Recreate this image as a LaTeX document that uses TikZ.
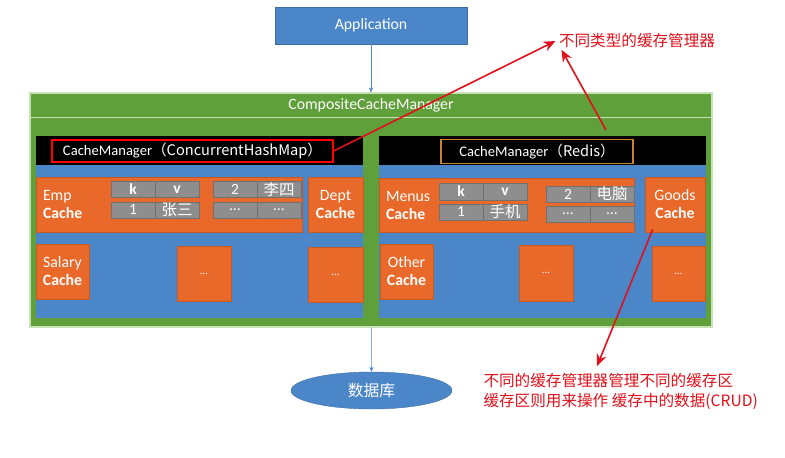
\documentclass[tikz,border=0pt]{standalone}
\usepackage{fontspec}
\setmainfont{Carlito}
\newfontfamily\cjk{Noto Sans CJK SC}
\usetikzlibrary{arrows.meta,calc,positioning,shapes.geometric}

\definecolor{appblue}{HTML}{4A86C8}
\definecolor{appline}{HTML}{3F6F9E}
\definecolor{mgrgreen}{HTML}{60A03A}
\definecolor{mgrline}{HTML}{C8E2B6}
\definecolor{cacheorange}{HTML}{E8692A}
\definecolor{cellgray}{HTML}{8E8E8E}
\definecolor{cellline}{HTML}{707070}
\definecolor{notered}{HTML}{E0111C}
\definecolor{redisgold}{HTML}{C8862C}

\begin{document}
\begin{tikzpicture}[x=1pt,y=-1pt,font=\fontsize{15.8}{18}\selectfont,
    panel/.style={inner sep=0pt,text=white},
    mgrname/.style={panel,line width=1.2pt,font=\fontsize{14.6}{17}\selectfont},
    cachebox/.style={fill=cacheorange,draw=cacheorange!85!black,text=white,align=center,inner sep=0pt},
    cell/.style={fill=cellgray,draw=cellline,text=white,minimum width=44pt,minimum height=16pt,
                 inner sep=0pt,outer sep=0pt,font=\fontsize{15.5}{16}\selectfont},
    more/.style={cachebox,font=\fontsize{11}{12}\selectfont},
    note/.style={text=notered,font=\cjk\fontsize{15.6}{19.5}\selectfont,align=left,anchor=west},
    flow/.style={draw=appblue,thin,-{Stealth[length=5pt,width=4pt]}},
    pointer/.style={draw=notered,line width=1.6pt,-{Stealth[length=12pt,width=10pt]}}]

    \useasboundingbox[fill=white] (0,0) rectangle (785,458);

    \node[panel,fill=appblue,draw=appline,minimum width=192pt,minimum height=37pt] (app) at (371,25.5) {Application};

    % composite manager with its two cache managers
    \node[panel,fill=mgrgreen,draw=mgrline,line width=1.2pt,minimum width=682pt,minimum height=234pt] (ccm) at (371,210) {};
    \node[panel,draw=mgrline,line width=1pt,minimum width=682pt,minimum height=25pt,below=0pt of ccm.north] (ccmtitle) {CompositeCacheManager};

    \node[panel,fill=black,minimum width=327pt,minimum height=29pt] (lhead) at (199.5,150.5) {};
    \node[panel,fill=appblue,minimum width=327pt,minimum height=153pt,below=0pt of lhead] (lbody) {};
    \node[panel,fill=black,minimum width=327pt,minimum height=29pt] (rhead) at (542.5,150.5) {};
    \node[panel,fill=appblue,minimum width=327pt,minimum height=153pt,below=0pt of rhead] (rbody) {};

    \node[mgrname,draw=red,minimum width=281pt,minimum height=22pt] (lname) at (192.5,151) {CacheManager\cjk{（}ConcurrentHashMap\cjk{）}};
    \node[mgrname,draw=redisgold,minimum width=192pt,minimum height=24pt] (rname) at (537,151.5) {CacheManager\cjk{（}Redis\cjk{）}};

    % left: ConcurrentHashMap caches
    \node[cachebox,minimum width=266pt,minimum height=55pt] (emp) at (169,204.5) {};
    \node[text=white,align=left,inner sep=0pt,right=7pt of emp.west] (emplabel) {Emp\\\textbf{Cache}};
    \node[cell] (ek) at (133,189.5) {\textbf{k}};
    \node[cell,right=0pt of ek] (ev) {\textbf{v}};
    \node[cell] (e1) at (133,210) {1};
    \node[cell,right=0pt of e1] (e1v) {\cjk 张三};
    \node[cell] (e2) at (235,189.5) {2};
    \node[cell,right=0pt of e2] (e2v) {\cjk 李四};
    \node[cell] (e3) at (235,210) {\ldots};
    \node[cell,right=0pt of e3] (e3v) {\ldots};
    \node[cachebox,minimum width=55pt,minimum height=55pt] (dept) at (335.5,204.5) {Dept\\\textbf{Cache}};
    \node[cachebox,minimum width=53pt,minimum height=55pt] (salary) at (62.5,271.5) {Salary\\\textbf{Cache}};
    \node[more,minimum width=54pt,minimum height=55pt] (lmorea) at (204,273.5) {\ldots};
    \node[more,minimum width=55pt,minimum height=55pt] (lmoreb) at (335.5,274.5) {\ldots};

    % right: Redis caches
    \node[cachebox,minimum width=255pt,minimum height=54pt] (menus) at (506.5,205) {};
    \node[text=white,align=left,inner sep=0pt,right=7pt of menus.west] (menuslabel) {Menus\\\textbf{Cache}};
    \node[cell,minimum height=17pt] (mk) at (461,191.5) {\textbf{k}};
    \node[cell,minimum height=17pt,right=0pt of mk] (mv) {\textbf{v}};
    \node[cell] (m1) at (461,212) {1};
    \node[cell,right=0pt of m1] (m1v) {\cjk 手机};
    \node[cell] (m2) at (568,194) {2};
    \node[cell,right=0pt of m2] (m2v) {\cjk 电脑};
    \node[cell] (m3) at (568,214) {\ldots};
    \node[cell,right=0pt of m3] (m3v) {\ldots};
    \node[cachebox,minimum width=60pt,minimum height=55pt] (goods) at (675,204.5) {Goods\\\textbf{Cache}};
    \node[cachebox,minimum width=53pt,minimum height=55pt] (other) at (406.5,271.5) {Other\\\textbf{Cache}};
    \node[more,minimum width=54pt,minimum height=56pt] (rmorea) at (546,273) {\ldots};
    \node[more,minimum width=53pt,minimum height=55pt] (rmoreb) at (678.5,273.5) {\ldots};

    \node[ellipse,panel,fill=appblue,draw=appline,minimum width=161pt,minimum height=37pt] (db) at (371.5,390.5) {\cjk 数据库};

    \draw[flow] (app) -- (ccm);
    \draw[flow] (ccm) -- (db);

    % red remarks
    \node[note] (typesnote) at (555.5,41) {不同类型的缓存管理器};
    \node[note] (areanote) at (480,391.5) {不同的缓存管理器管理不同的缓存区\\缓存区则用来操作\ 缓存中的数据(CRUD)};
    \coordinate (rtail) at (606,130);

    \draw[pointer] (lname.east) -- (typesnote.west);
    \draw[pointer] (rtail) -- ($(typesnote.south west)+(6,-2)$);
    \draw[pointer] ($(goods.south west)+(8,-3)$) -- ($(areanote.north west)+(117,-4)$);
\end{tikzpicture}
\end{document}
